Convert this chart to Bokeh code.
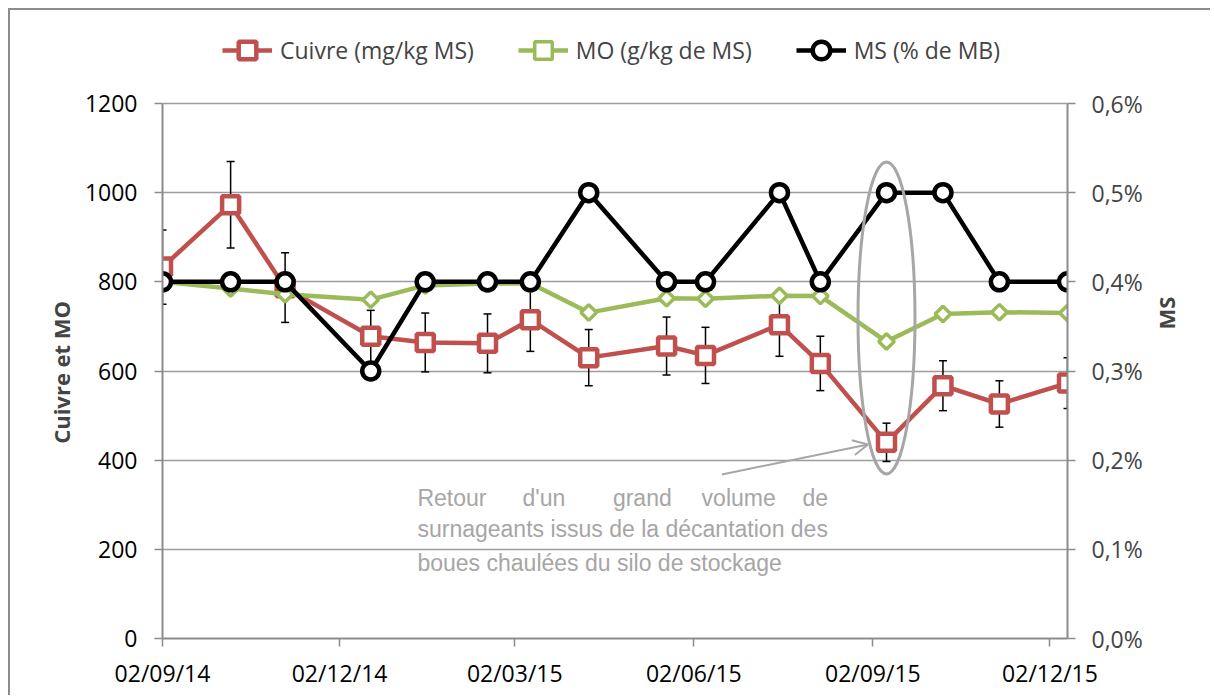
import math
import pandas as pd
from bokeh.plotting import figure
from bokeh.models import (Range1d, LinearAxis, FixedTicker, CustomJSTickFormatter,
                          DatetimeTickFormatter, Legend, LegendItem, Label, Arrow, OpenHead)
from bokeh.embed import file_html
from bokeh.resources import INLINE

# ---------------- data ----------------
dates = ["2014-09-02", "2014-10-07", "2014-11-04", "2014-12-18", "2015-01-15", "2015-02-16",
         "2015-03-10", "2015-04-09", "2015-05-19", "2015-06-08", "2015-07-16", "2015-08-06",
         "2015-09-09", "2015-10-08", "2015-11-06", "2015-12-11"]
cuivre = [833, 973, 787, 678, 664, 662, 715, 630, 656, 635, 704, 617, 440, 567, 526, 573]
cuivre_err = [83, 97, 78, 58, 66, 66, 71, 63, 65, 63, 71, 61, 43, 56, 52, 57]
mo = [800, 785, 772, 760, 792, 796, 797, 731, 763, 762, 769, 768, 666, 728, 732, 730]
ms = [0.4, 0.4, 0.4, 0.3, 0.4, 0.4, 0.4, 0.5, 0.4, 0.4, 0.5, 0.4, 0.5, 0.5, 0.4, 0.4]

x_tick_dates = ["2014-09-02", "2014-12-02", "2015-03-02", "2015-06-02", "2015-09-02", "2015-12-02"]
left_ticks = [0, 200, 400, 600, 800, 1000, 1200]
right_ticks = [0.0, 0.1, 0.2, 0.3, 0.4, 0.5, 0.6]

series_names = ["Cuivre (mg/kg MS)", "MO (g/kg de MS)", "MS (% de MB)"]
left_label = "Cuivre et MO"
right_label = "MS"

note_line1_words = ["Retour", "d'un", "grand", "volume", "de"]
note_line2 = "surnageants issus de la décantation des"
note_line3 = "boues chaulées du silo de stockage"

# annotation placement (data coordinates)
note_word_dates = ["2015-01-11", "2015-03-06", "2015-04-21T10:00", "2015-06-06", "2015-08-10"]
note_baselines = [316, 246, 170]
arrow_start = ("2015-06-16T10:00", 368)
arrow_end = ("2015-08-30T12:00", 435)
ellipse_index = 12
ellipse_y = 719

# ---------------- layout / style ----------------
LEFT_MAX, RIGHT_MAX = 1200, 0.6
HEADROOM = 618 / 535          # frame extends above the top gridline to host the legend
LABEL_PAD = "\u00a0" * 15     # keeps axis titles centred on the 0-1200 band, not the whole frame
RED = "#C0504D"
GREEN = "#9BBB59"
BLACK = "#000000"
GRID = "#9d9d9d"
AXIS = "#8c8c8c"
NOTE = "#a6a6a6"
FONT = "Open Sans"


def ms_of(d):
    return pd.Timestamp(d).value / 1e6


x = [pd.Timestamp(d) for d in dates]
lower = [c - e for c, e in zip(cuivre, cuivre_err)]
upper = [c + e for c, e in zip(cuivre, cuivre_err)]

p = figure(width=1202, height=687, x_axis_type="datetime",
           x_range=Range1d(x[0], x[-1]), y_range=Range1d(0, LEFT_MAX * HEADROOM),
           output_backend="svg", toolbar_location=None,
           min_border_left=152, min_border_right=145, min_border_top=10, min_border_bottom=59,
           styles={"margin-left": "8px", "margin-top": "8px",
                   "border-left": "2px solid #8c8c8c", "border-top": "2px solid #8c8c8c"})
p.outline_line_color = None
p.background_fill_color = "white"
p.border_fill_color = "white"
p.extra_y_ranges = {"ms": Range1d(0, RIGHT_MAX * HEADROOM)}

# grid
p.xgrid.visible = False
p.ygrid.ticker = FixedTicker(ticks=left_ticks)
p.ygrid.grid_line_color = GRID
p.ygrid.grid_line_width = 1.5

# axes
for ax in [p.xaxis[0], p.yaxis[0]]:
    ax.axis_line_color = AXIS
    ax.axis_line_width = 2
    ax.major_tick_line_color = AXIS
    ax.major_tick_line_width = 1.5
    ax.major_tick_in = 0
    ax.major_tick_out = 8
    ax.minor_tick_line_color = None
    ax.major_label_text_font = FONT
    ax.major_label_text_font_size = "23px"
    ax.major_label_text_color = "black"

p.xaxis.ticker = FixedTicker(ticks=[ms_of(d) for d in x_tick_dates])
fmt = "%d/%m/%y"
p.xaxis.formatter = DatetimeTickFormatter(milliseconds=fmt, seconds=fmt, minsec=fmt, minutes=fmt,
                                          hourmin=fmt, hours=fmt, days=fmt, months=fmt, years=fmt)
p.xaxis.major_label_standoff = 10

p.yaxis.ticker = FixedTicker(ticks=left_ticks)
p.yaxis.bounds = (0, LEFT_MAX)
p.yaxis.major_label_standoff = 17
p.yaxis.axis_label = left_label + LABEL_PAD
p.yaxis.axis_label_text_font = FONT
p.yaxis.axis_label_text_font_size = "22px"
p.yaxis.axis_label_text_font_style = "bold"
p.yaxis.axis_label_standoff = 6

ax2 = LinearAxis(y_range_name="ms", ticker=FixedTicker(ticks=right_ticks), bounds=(0, RIGHT_MAX),
                 formatter=CustomJSTickFormatter(code="return tick.toFixed(1).replace('.', ',') + '%';"))
ax2.axis_line_color = AXIS
ax2.axis_line_width = 2
ax2.major_tick_line_color = AXIS
ax2.major_tick_line_width = 1.5
ax2.major_tick_in = 0
ax2.major_tick_out = 8
ax2.minor_tick_line_color = None
ax2.major_label_text_font = FONT
ax2.major_label_text_font_size = "23px"
ax2.major_label_standoff = 16
ax2.axis_label = right_label + LABEL_PAD
ax2.axis_label_text_font = FONT
ax2.axis_label_text_font_size = "22px"
ax2.axis_label_text_font_style = "bold"
ax2.axis_label_text_align = "center"
ax2.axis_label_standoff = 20
ax2.axis_label_orientation = math.pi / 2
p.add_layout(ax2, "right")

# error bars
p.segment(x0=x, y0=lower, x1=x, y1=upper, line_color="black", line_width=1.5)
p.scatter(x=x, y=upper, marker="dash", size=8, line_color="black", line_width=1.5)
p.scatter(x=x, y=lower, marker="dash", size=8, line_color="black", line_width=1.5)

# series
r_line = p.line(x, cuivre, line_color=RED, line_width=4.5, line_join="round")
r_mark = p.scatter(x, cuivre, marker="square", size=17, line_color=RED, line_width=4.5, fill_color="white")
g_line = p.line(x, mo, line_color=GREEN, line_width=4.5, line_join="round")
g_mark = p.scatter(x, mo, marker="square", size=11, angle=math.pi / 4, line_color=GREEN,
                   line_width=3.5, fill_color="white")
b_line = p.line(x, ms, y_range_name="ms", line_color=BLACK, line_width=4.5, line_join="round")
b_mark = p.scatter(x, ms, y_range_name="ms", marker="circle", size=17, line_color=BLACK,
                   line_width=4.5, fill_color="white")

# annotation: ellipse, arrow, text
p.ellipse(x=[x[ellipse_index]], y=[ellipse_y], width=57, height=312,
          width_units="screen", height_units="screen",
          fill_color=None, line_color=NOTE, line_width=3)
p.add_layout(Arrow(end=OpenHead(size=15, line_color=NOTE, line_width=2),
                   x_start=ms_of(arrow_start[0]), y_start=arrow_start[1],
                   x_end=ms_of(arrow_end[0]), y_end=arrow_end[1],
                   line_color=NOTE, line_width=2))

for i, (w, d) in enumerate(zip(note_line1_words, note_word_dates)):
    align = "right" if i == len(note_line1_words) - 1 else "left"
    p.add_layout(Label(x=ms_of(d), y=note_baselines[0], text=w, text_font="Liberation Sans",
                       text_font_size="23px", text_color=NOTE, text_align=align,
                       text_baseline="alphabetic"))
for txt, yb in [(note_line2, note_baselines[1]), (note_line3, note_baselines[2])]:
    p.add_layout(Label(x=ms_of(note_word_dates[0]), y=yb, text=txt, text_font="Liberation Sans",
                       text_font_size="23px", text_color=NOTE, text_align="left",
                       text_baseline="alphabetic"))

# legend (inside the frame's headroom, above the top gridline)
legend = Legend(items=[LegendItem(label=series_names[0], renderers=[r_line, r_mark]),
                       LegendItem(label=series_names[1], renderers=[g_line, g_mark]),
                       LegendItem(label=series_names[2], renderers=[b_line, b_mark])],
                orientation="horizontal", location=(60, 566),
                glyph_width=50, glyph_height=44, label_standoff=8, spacing=44, padding=0,
                margin=0, border_line_color=None, background_fill_alpha=0,
                label_text_font=FONT, label_text_font_size="23px")
p.add_layout(legend, "center")

open("out.html", "w").write(file_html(p, INLINE))
